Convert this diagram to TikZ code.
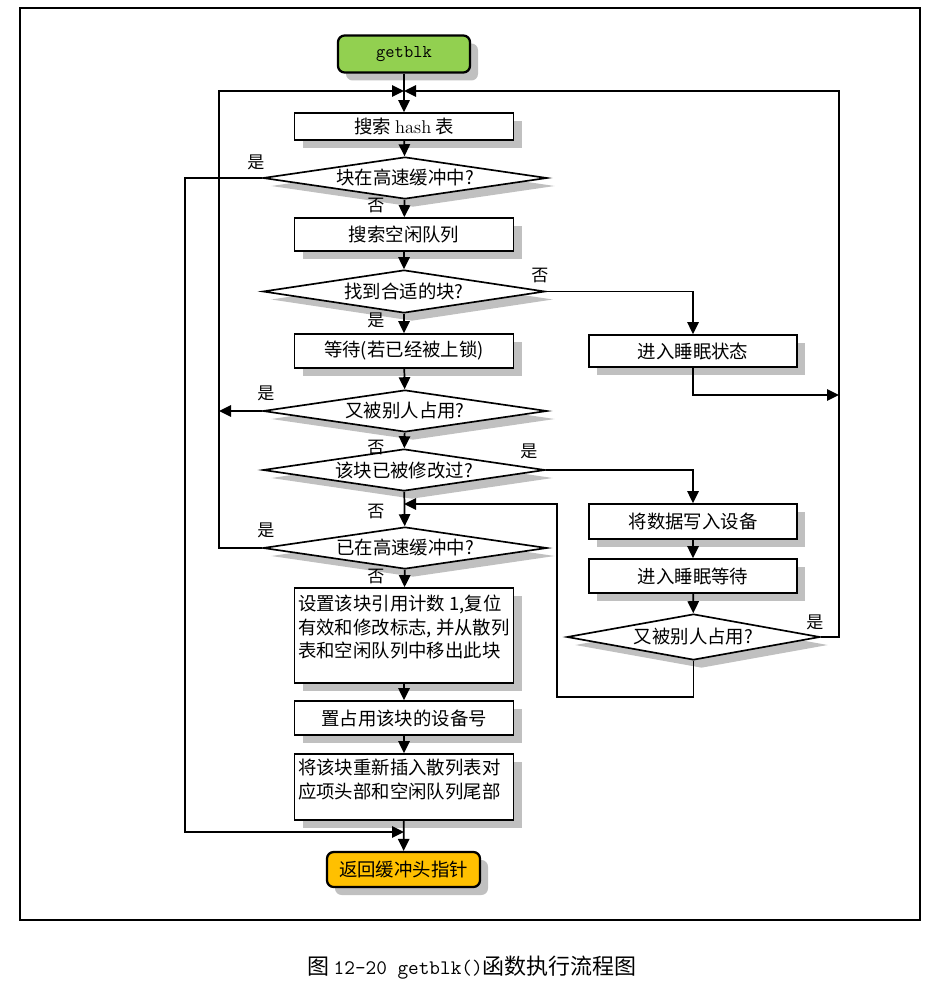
\documentclass[tikz,border=0pt]{standalone}
\usepackage{fontspec}
\newfontfamily\cjk{Noto Sans CJK SC}
\usetikzlibrary{shapes.geometric,shadows,arrows.meta}
\definecolor{startgreen}{HTML}{92D050}
\definecolor{endorange}{HTML}{FFC000}
\definecolor{shadowgray}{HTML}{C0C0C0}
\newcommand\zw[1]{\makebox[0pt]{#1}}
\newcommand\cjkfont{\cjk\fontsize{13.8}{17.6}\selectfont}
\begin{document}
\begin{tikzpicture}[x=0.75pt,y=-0.75pt,
  shd/.style={drop shadow={shadow xshift=6pt,shadow yshift=-6pt,fill=shadowgray,opacity=1}},
  box/.style={draw,line width=1.25pt,fill=white,shd,inner sep=0pt,font=\cjkfont},
  dia/.style={diamond,draw,line width=1.25pt,fill=white,shd,aspect=1,inner sep=0pt,font=\cjkfont},
  term/.style={draw,line width=1.7pt,rounded corners=5pt,shd,inner sep=0pt},
  lab/.style={font=\cjk\fontsize{12.8}{14}\selectfont,inner sep=0pt},
  conn/.style={line width=1.3pt},
  arr/.style={conn,-{Triangle[length=9pt,width=8.5pt]}}
]
\useasboundingbox (0,0) rectangle (946,984);
\draw[line width=1.5pt] (20,8) rectangle (920,920);

% nodes
\node[term,fill=startgreen,minimum width=99pt,minimum height=27.75pt,font=\ttfamily\fontsize{13.5}{15}\selectfont] (start) at (404,54) {getblk};
\node[box,minimum width=164.25pt,minimum height=20.25pt] (hash) at (404,126.5) {搜索 {\rmfamily hash} 表};
\node[dia,minimum width=213pt,minimum height=31.5pt] (d1) at (405,178) {\zw{块在高速缓冲中?}};
\node[box,minimum width=164.25pt,minimum height=24.75pt] (free) at (404,234.5) {搜索空闲队列};
\node[dia,minimum width=211.5pt,minimum height=32.25pt] (d2) at (404,291.5) {\zw{找到合适的块?}};
\node[box,minimum width=164.25pt,minimum height=25.5pt] (wait) at (404,351) {等待(若已经被上锁)};
\node[box,minimum width=156pt,minimum height=24pt] (sleep) at (693,351) {进入睡眠状态};
\node[dia,minimum width=213pt,minimum height=31.5pt] (d3) at (405,411) {\zw{又被别人占用?}};
\node[dia,minimum width=211.5pt,minimum height=31.5pt] (d4) at (404,470) {\zw{该块已被修改过?}};
\node[dia,minimum width=213pt,minimum height=31.5pt] (d5) at (405,548) {\zw{已在高速缓冲中?}};
\node[box,minimum width=164.25pt,minimum height=71.25pt] (setc) at (404,635.5)
  {\parbox[c][60.8pt][t]{159pt}{\cjkfont 设置该块引用计数 1,复位\\有效和修改标志, 并从散列\\表和空闲队列中移出此块}};
\node[box,minimum width=164.25pt,minimum height=25.5pt] (dev) at (404,718) {置占用该块的设备号};
\node[box,minimum width=164.25pt,minimum height=49.5pt] (ins) at (404,787)
  {\parbox[c][42pt][t]{159pt}{\cjk\fontsize{13.8}{18}\selectfont 将该块重新插入散列表对\\应项头部和空闲队列尾部}};
\node[term,fill=endorange,minimum width=114.75pt,minimum height=26.25pt,font=\cjkfont] (ret) at (403.5,869.5) {返回缓冲头指针};
\node[box,minimum width=156pt,minimum height=26.25pt] (write) at (693,521.5) {将数据写入设备};
\node[box,minimum width=156pt,minimum height=25.5pt] (sleep2) at (693,576) {进入睡眠等待};
\node[dia,minimum width=189.75pt,minimum height=34.5pt] (d6) at (693.5,637) {\zw{又被别人占用?}};

% coordinates
\coordinate (top) at (404,91);
\coordinate (mid) at (404,504);
\coordinate (bot) at (404,832);
\coordinate (L1) at (185,178);
\coordinate (L1b) at (185,832);
\coordinate (L2) at (219,548);
\coordinate (L2t) at (219,91);
\coordinate (L3) at (219,411);
\coordinate (R1) at (839,637);
\coordinate (R1t) at (839,91);
\coordinate (R2) at (839,395);
\coordinate (S1) at (693,395);
\coordinate (B1) at (693.5,697);
\coordinate (B2) at (557,697);
\coordinate (B3) at (557,504);

% connectors
\draw[arr] (start) -- (hash);
\draw[arr] (d5.west) -- (L2) -- (L2t) -- (top);
\draw[arr] (d6.east) -- (R1) -- (R1t) -- (top);
\draw[arr] (hash) -- (d1);
\draw[arr] (d1) -- (free);
\draw[arr] (free) -- (d2);
\draw[arr] (d2) -- (wait);
\draw[arr] (d2.east) -| (sleep.north);
\draw[arr] (sleep.south) -- (S1) -- (R2);
\draw[arr] (wait) -- (d3);
\draw[arr] (d3.west) -- (L3);
\draw[arr] (d3) -- (d4);
\draw[arr] (d4.east) -| (write.north);
\draw[arr] (d4) -- (d5);
\draw[arr] (d5) -- (setc);
\draw[arr] (setc) -- (dev);
\draw[arr] (dev) -- (ins);
\draw[arr] (ins) -- (ret);
\draw[arr] (d1.west) -- (L1) -- (L1b) -- (bot);
\draw[arr] (write) -- (sleep2);
\draw[arr] (sleep2) -- (d6);
\draw[arr] (d6.south) -- (B1) -- (B2) -- (B3) -- (mid);

% labels
\node[lab] (y1) at (256,162) {是};
\node[lab] (n1) at (376,206) {否};
\node[lab] (n2) at (540,275) {否};
\node[lab] (y2) at (376,320) {是};
\node[lab] (y3) at (266,393) {是};
\node[lab] (n3) at (376,447) {否};
\node[lab] (y4) at (529,451) {是};
\node[lab] (n4) at (376,511) {否};
\node[lab] (y5) at (266,530) {是};
\node[lab] (n5) at (376,576) {否};
\node[lab] (y6) at (815,622) {是};

% caption
\node[inner sep=0pt] (cap) at (472,968) {{\cjk\fontsize{16.5}{18}\selectfont 图} {\ttfamily\fontsize{15.5}{18}\selectfont 12-20 getblk()}{\cjk\fontsize{16.5}{18}\selectfont 函数执行流程图}};
\end{tikzpicture}
\end{document}
